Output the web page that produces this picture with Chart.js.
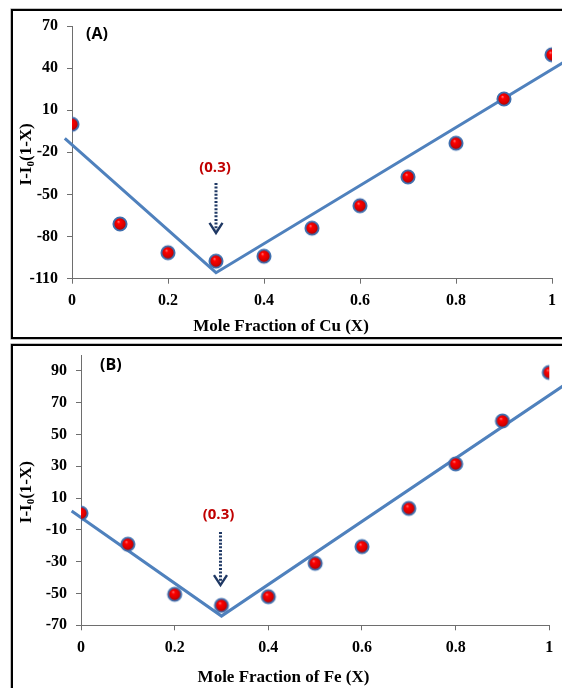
<!DOCTYPE html>
<html><head><meta charset="utf-8">
<script src="https://cdn.jsdelivr.net/npm/chart.js@4/dist/chart.umd.min.js"></script>
<style>
html,body{margin:0;padding:0;background:#fff;overflow:hidden;width:562px;height:688px;position:relative;}
.frame{position:absolute;border:2px solid #000;box-sizing:border-box;box-shadow:0 0 0 0.6px #999;}
canvas{position:absolute;left:0;}
</style></head><body>
<div class="frame" style="left:11px;top:9px;width:700px;height:330px;"></div>
<div class="frame" style="left:11px;top:344px;width:700px;height:400px;"></div>
<canvas id="cA" width="562" height="340" style="top:0"></canvas>
<canvas id="cB" width="562" height="348" style="top:340px"></canvas>
<script>
// ---- data ----
const moleFraction = [0, 0.1, 0.2, 0.3, 0.4, 0.5, 0.6, 0.7, 0.8, 0.9, 1];
const valuesCu = [0, -71, -91.5, -97.5, -94, -74, -58, -37.5, -13.5, 18, 49.5];
const valuesFe = [0.5, -19, -50.5, -57.5, -52, -31, -20.5, 3.5, 31.5, 58.5, 89];
const fitCuX = [-0.015, 0.3, 1.03];
const fitCuY = [-10, -105.7, 45.3];
const fitFeX = [-0.02, 0.3, 1.035];
const fitFeY = [1.9, -64.2, 81.7];
const xTicks = [0, 0.2, 0.4, 0.6, 0.8, 1];
const yTicksCu = [-110, -80, -50, -20, 10, 40, 70];
const yTicksFe = [-70, -50, -30, -10, 10, 30, 50, 70, 90];
const xTitleCu = 'Mole Fraction of Cu (X)';
const xTitleFe = 'Mole Fraction of Fe (X)';

const fontSerif = "'Liberation Serif','Times New Roman',serif";
const fontSans = "'Open Sans','Liberation Sans',sans-serif";

function makeBall(){
  const c = document.createElement('canvas'); c.width = c.height = 18;
  const g = c.getContext('2d');
  g.beginPath(); g.arc(9, 9, 6.6, 0, Math.PI*2);
  const gr = g.createRadialGradient(7.4, 6.6, 0.3, 9, 9, 7);
  gr.addColorStop(0, '#ff6a6a'); gr.addColorStop(0.22, '#ff0000'); gr.addColorStop(0.7, '#d40000'); gr.addColorStop(1, '#800000');
  g.fillStyle = gr; g.fill();
  g.lineWidth = 1.9; g.strokeStyle = '#3f6fae'; g.stroke();
  return c;
}
const ball = makeBall();

function decor(o){
  return {id:'decor', afterDraw(chart){
    const {ctx, chartArea:a, scales:{x, y}} = chart;
    ctx.save();
    ctx.textBaseline = 'middle';
    ctx.font = `bold 16px ${fontSans}`; ctx.fillStyle = '#000'; ctx.textAlign = 'left';
    ctx.fillText(o.panel, a.left + o.panelDx, o.panelY);
    const px = x.getPixelForValue(o.peakX);
    ctx.font = `bold 15px ${fontSans}`;
    ctx.fillStyle = '#C00000'; ctx.textAlign = 'center';
    ctx.fillText('(' + o.peakX + ')', px + o.labelDx, y.getPixelForValue(o.labelY));
    const y1 = y.getPixelForValue(o.arrowTop), y2 = y.getPixelForValue(o.arrowBottom);
    const ax = px + o.arrowDx;
    ctx.strokeStyle = '#1F3864'; ctx.lineWidth = 3; ctx.setLineDash([2, 1.6]);
    ctx.beginPath(); ctx.moveTo(ax, y1); ctx.lineTo(ax, y2 - 3); ctx.stroke();
    ctx.setLineDash([]); ctx.lineWidth = 2.4;
    ctx.beginPath(); ctx.moveTo(ax - 6.5, y2 - 10); ctx.lineTo(ax, y2); ctx.lineTo(ax + 6.5, y2 - 10); ctx.stroke();
    // x title
    ctx.fillStyle = '#000';
    ctx.font = `bold 17px ${fontSerif}`; ctx.textAlign = 'center';
    ctx.fillText(o.xTitle, o.xTitleX, o.xTitleY);
    // y title with subscript
    const cy = (a.top + a.bottom)/2 + o.yTitleDy;
    ctx.translate(27, cy); ctx.rotate(-Math.PI/2);
    const big = `bold 17px ${fontSerif}`, small = `bold 11px ${fontSerif}`;
    ctx.font = big; const w1 = ctx.measureText('I-I').width, w3 = ctx.measureText('(1-X)').width;
    ctx.font = small; const w2 = ctx.measureText('0').width;
    let sx = -(w1 + w2 + w3)/2;
    ctx.textAlign = 'left';
    ctx.font = big; ctx.fillText('I-I', sx, 0); sx += w1;
    ctx.font = small; ctx.fillText('0', sx, 4); sx += w2;
    ctx.font = big; ctx.fillText('(1-X)', sx, 0);
    ctx.restore();
  }};
}

function build(id, vals, fx, fy, yTicks, yMin, yMax, yW, xH, pad, o){
  const tickFont = {family: fontSerif, weight: 'bold', size: 16};
  return new Chart(document.getElementById(id), {
    type: 'scatter',
    data: {datasets: [
      {type:'scatter', data: moleFraction.map((v,i)=>({x:v, y:vals[i]})), pointStyle: ball, pointRadius: 7, order: 0},
      {type:'line', data: fx.map((v,i)=>({x:v, y:fy[i]})), showLine: true, borderColor: '#4F81BD', borderWidth: 3,
       pointRadius: 0, fill: false, tension: 0, clip: false, order: 1}
    ]},
    options: {
      responsive: false, animation: false, devicePixelRatio: 1,
      layout: {padding: pad},
      plugins: {legend: {display: false}, tooltip: {enabled: false}},
      scales: {
        x: {type: 'linear', min: 0, max: 1,
            afterBuildTicks: s => { s.ticks = xTicks.map(v => ({value: v})); },
            afterFit: s => { s.height = xH; s.paddingLeft = 0; s.paddingRight = 0; },
            grid: {drawOnChartArea: false, drawTicks: true, tickLength: 5, color: '#6e6e6e'},
            border: {color: '#6e6e6e', width: 1},
            ticks: {font: tickFont, color: '#000', padding: 8, maxRotation: 0, autoSkip: false,
                    callback: v => String(v)}},
        y: {type: 'linear', min: yMin, max: yMax,
            afterBuildTicks: s => { s.ticks = yTicks.map(v => ({value: v})); },
            afterFit: s => { s.width = yW; s.paddingTop = 0; s.paddingBottom = 0; },
            grid: {drawOnChartArea: false, drawTicks: true, tickLength: 5, color: '#6e6e6e'},
            border: {color: '#6e6e6e', width: 1},
            ticks: {font: tickFont, color: '#000', padding: 9, autoSkip: false, callback: v => String(v)}}
      }
    },
    plugins: [decor(o)]
  });
}

build('cA', valuesCu, fitCuX, fitCuY, yTicksCu, -110, 70, 72, 61.3, {top: 26, right: 10, left: 0, bottom: 0},
  {panel: '(A)', panelDx: 14, panelY: 34, peakX: 0.3, labelDx: -1, labelY: -31, arrowTop: -41.8, arrowBottom: -77.4, arrowDx: 0,
   xTitle: xTitleCu, xTitleX: 281, xTitleY: 326.7, yTitleDy: 2});
build('cB', valuesFe, fitFeX, fitFeY, yTicksFe, -70, 100, 81, 62.7, {top: 15, right: 12.7, left: 0, bottom: 0},
  {panel: '(B)', panelDx: 19, panelY: 25, peakX: 0.3, labelDx: -3, labelY: -0.6, arrowTop: -11.3, arrowBottom: -44.7, arrowDx: -1,
   xTitle: xTitleFe, xTitleX: 283.5, xTitleY: 337.3, yTitleDy: 2});
</script>
</body></html>
